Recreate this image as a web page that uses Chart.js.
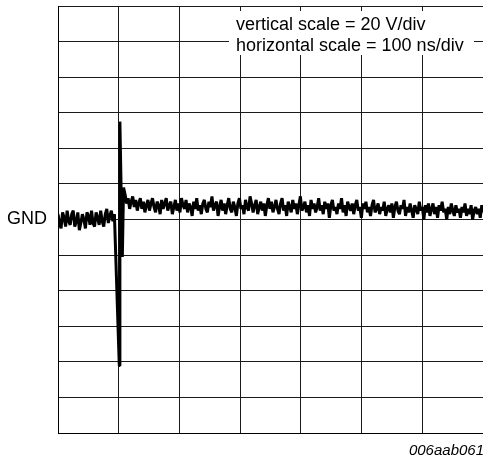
<!DOCTYPE html>
<html>
<head>
<meta charset="utf-8">
<script src="https://cdn.jsdelivr.net/npm/chart.js@4/dist/chart.umd.min.js"></script>
<style>
  body { margin: 0; background: #fff; }
  #wrap { position: relative; width: 483px; height: 463px; }
</style>
</head>
<body>
<div id="wrap"><canvas id="scope"></canvas></div>
<script>
// oscilloscope trace, volts vs ns (20 V/div, 100 ns/div)
const sampleNs = 2.5;

// before the transient, one sample every 2.5 ns from 0 ns
const preStart = 0;
const preVolts = [
  3, -2, -5, 4, 1, -4, 5, -1, -3, 3, 5, -4, -1, 4, -6, -2, 3, 0, -5,
  4, 2, -3, 5, -2, -4, 4, 1, -3, 5, -1, -4, 3, 6, -2, 2, 5, -1, 3
];

// the ringing at the switching edge
const spikeTimes = [100.5, 101.5, 105.5, 107.5];
const spikeVolts = [-82, 55, -21, 18];

// after the transient, one sample every 2.5 ns from 110 ns
const postStart = 110;
const postVolts = [
  14, 9, 12, 6, 10, 13, 7, 11, 5, 9,
  12, 6, 10, 4, 8, 11, 5, 9, 12, 7,
  4, 10, 8, 3, 11, 6, 9, 12, 5, 8,
  10, 3, 7, 11, 5, 9, 4, 12, 8, 6,
  11, 4, 9, 7, 2, 10, 6, 12, 5, 8,
  3, 9, 11, 6, 4, 10, 7, 13, 5, 8,
  10, 2, 7, 11, 5, 9, 3, 8, 12, 6,
  4, 10, 7, 2, 9, 12, 6, 8, 3, 11,
  7, 5, 13, 9, 4, 8, 11, 3, 7, 10,
  5, 9, 2, 8, 12, 6, 10, 4, 7, 11,
  6, 3, 9, 12, 5, 8, 2, 10, 7, 4,
  11, 6, 9, 3, 8, 13, 5, 7, 10, 4,
  8, 2, 11, 6, 9, 4, 7, 12, 5, 8,
  3, 10, 6, 9, 1, 8, 11, 5, 7, 3,
  9, 6, 12, 4, 8, 2, 10, 7, 5, 9,
  3, 8, 11, 5, 7, 1, 9, 6, 10, 4,
  7, 2, 8, 11, 4, 6, 9, 3, 7, 5,
  10, 2, 6, 8, 4, 9, 1, 7, 10, 5,
  3, 8, 6, 11, 2, 7, 4, 9, 5, 1,
  8, 6, 3, 10, 5, 7, 0, 8, 4, 9,
  2, 6, 9, 3, 7, 1, 8, 5, 10, 4,
  6, 0, 7, 3, 9, 5, 2, 8, 4, 6,
  1, 7, 4, 9, 2, 6, 3, 8, 0, 5,
  7, 3, 6, 1, 8, 4
];

const scaleLines = ["vertical scale = 20 V/div", "horizontal scale = 100 ns/div"];
const groundLabel = "GND";
const figureId = "006aab061";

const points = [];
preVolts.forEach((v, i) => points.push({ x: preStart + i * sampleNs, y: v }));
spikeTimes.forEach((t, i) => points.push({ x: t, y: spikeVolts[i] }));
postVolts.forEach((v, i) => points.push({ x: postStart + i * sampleNs, y: v }));

const labels = {
  id: 'labels',
  beforeDatasetsDraw(chart) {
    const ctx = chart.ctx;
    const yScale = chart.scales.y;
    ctx.save();
    // white box behind the scale note
    ctx.fillStyle = '#fff';
    ctx.fillRect(229, 11, 245, 44);
    ctx.fillStyle = '#000';
    ctx.font = '18px "Liberation Sans", Arial, sans-serif';
    ctx.textAlign = 'left';
    ctx.textBaseline = 'alphabetic';
    ctx.fillText(scaleLines[0], 236, 30);
    ctx.fillText(scaleLines[1], 236, 51);

    ctx.textAlign = 'right';
    ctx.textBaseline = 'middle';
    ctx.fillText(groundLabel, 47, yScale.getPixelForValue(0));

    ctx.font = 'italic 15px "Liberation Sans", Arial, sans-serif';
    ctx.textBaseline = 'alphabetic';
    ctx.fillText(figureId, 484, 455);
    ctx.restore();
  }
};

new Chart(document.getElementById('scope'), {
  type: 'line',
  data: {
    datasets: [{
      data: points,
      borderColor: '#000',
      borderWidth: 3,
      borderJoinStyle: 'bevel',
      pointRadius: 0,
      tension: 0
    }]
  },
  options: {
    responsive: true,
    maintainAspectRatio: false,
    animation: false,
    events: [],
    layout: { padding: { left: 58, right: 0, top: 6, bottom: 30 } },
    plugins: { legend: { display: false }, tooltip: { enabled: false } },
    scales: {
      x: {
        type: 'linear',
        min: 0,
        max: 697,
        ticks: { display: false, stepSize: 100, includeBounds: false },
        grid: { color: '#1a1a1a', lineWidth: 1, drawTicks: false },
        border: { color: '#000', width: 1 }
      },
      y: {
        min: -120,
        max: 120,
        ticks: { display: false, stepSize: 20 },
        grid: { color: '#1a1a1a', lineWidth: 1, drawTicks: false },
        border: { color: '#000', width: 1 }
      }
    }
  },
  plugins: [labels]
});
</script>
</body>
</html>
